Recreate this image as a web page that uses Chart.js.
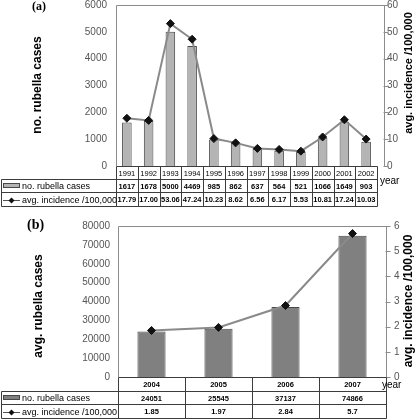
<!DOCTYPE html>
<html>
<head>
<meta charset="utf-8">
<script src="https://cdn.jsdelivr.net/npm/chart.js@4.4.0/dist/chart.umd.min.js"></script>
<style>
  body { margin: 0; background: #fff; }
  canvas { position: absolute; left: 0; }
  #chartA { top: 0; }
  #chartB { top: 210px; }
</style>
</head>
<body>
<canvas id="chartA" width="416" height="210"></canvas>
<canvas id="chartB" width="416" height="209"></canvas>
<script>
// series names used in the data tables
var seriesNames = ['no. rubella cases', 'avg. incidence /100,000'];

// panel (a) 1991-2002
var yearsA = ['1991', '1992', '1993', '1994', '1995', '1996', '1997', '1998', '1999', '2000', '2001', '2002'];
var casesA = [1617, 1678, 5000, 4469, 985, 862, 637, 564, 521, 1066, 1649, 903];
var incidenceA = [17.79, 17.00, 53.06, 47.24, 10.23, 8.62, 6.56, 6.17, 5.53, 10.81, 17.24, 10.03];
var casesMaxA = 6000, casesStepA = 1000;
var incMaxA = 60, incStepA = 10;

// panel (b) 2004-2007
var yearsB = ['2004', '2005', '2006', '2007'];
var casesB = [24051, 25545, 37137, 74866];
var incidenceB = [1.85, 1.97, 2.84, 5.7];
var casesMaxB = 80000, casesStepB = 10000;
var incMaxB = 6, incStepB = 1;

var SANS = '"Liberation Sans", Arial, sans-serif';
var SERIF = '"Liberation Serif", "Times New Roman", serif';

function rotText(c, txt, cx, cy, font) {
  c.save();
  c.translate(cx, cy);
  c.rotate(-Math.PI / 2);
  c.font = font;
  c.textAlign = 'center';
  c.textBaseline = 'middle';
  c.fillText(txt, 0, 0);
  c.restore();
}

function plain(v) { return String(v); }

function buildPanel(id, p) {
  var n = p.years.length;

  var panel = {
    id: 'panel_' + id,
    beforeDatasetsDraw: function (chart) {
      var c = chart.ctx, a = chart.chartArea, y1 = chart.scales.y1;
      var fr = p.frameRight + 0.5;
      c.save();
      c.strokeStyle = '#8c8c8c';
      c.lineWidth = 1;
      c.beginPath();
      c.moveTo(a.left + 0.5, a.bottom);
      c.lineTo(a.left + 0.5, a.top + 0.5);
      c.lineTo(fr, a.top + 0.5);
      c.lineTo(fr, a.bottom);
      y1.ticks.forEach(function (t) {
        var ty = Math.round(y1.getPixelForValue(t.value)) + 0.5;
        c.moveTo(fr - 1, ty);
        c.lineTo(fr + 4, ty);
      });
      c.stroke();
      c.restore();
    },
    afterDraw: function (chart) {
      var c = chart.ctx, a = chart.chartArea, x = chart.scales.x;
      var r = [0, 1, 2, 3].map(function (k) { return Math.round(a.bottom + k * p.rowH) + 0.5; });
      var edge = function (i) { return Math.round(x.getPixelForValue(i - 0.5)) + 0.5; };
      var right = edge(n);
      c.save();
      c.strokeStyle = '#3c3c3c';
      c.lineWidth = 1;
      c.beginPath();
      c.moveTo(edge(0), r[0]); c.lineTo(right, r[0]);
      for (var k = 1; k < 4; k++) { c.moveTo(1.5, r[k]); c.lineTo(right, r[k]); }
      for (var i = 0; i <= n; i++) { c.moveTo(edge(i), r[0]); c.lineTo(edge(i), r[3]); }
      c.moveTo(1.5, r[1]); c.lineTo(1.5, r[3]);
      c.stroke();

      // cell texts
      c.fillStyle = '#000';
      c.textAlign = 'center';
      c.textBaseline = 'middle';
      for (i = 0; i < n; i++) {
        var cx = x.getPixelForValue(i);
        c.font = p.yearFont;
        c.fillText(p.years[i], cx, (r[0] + r[1]) / 2 + 0.5);
        c.font = 'bold 7.5px ' + SANS;
        c.fillText(String(p.cases[i]), cx, (r[1] + r[2]) / 2 + 0.5);
        c.fillText(p.incFmt(p.incidence[i]), cx, (r[2] + r[3]) / 2 + 0.5);
      }

      // legend keys
      var m1 = Math.round((r[1] + r[2]) / 2), m2 = Math.round((r[2] + r[3]) / 2);
      c.fillStyle = p.barColor;
      c.fillRect(3, m1 - 2, 17, 4);
      c.strokeStyle = '#474747';
      c.strokeRect(3.5, m1 - 2.5, 16, 4);
      c.strokeStyle = '#555';
      c.beginPath();
      c.moveTo(3, m2 + 0.5); c.lineTo(20, m2 + 0.5);
      c.stroke();
      c.fillStyle = '#111';
      c.beginPath();
      c.moveTo(11.5, m2 - 2.5); c.lineTo(14.5, m2 + 0.5); c.lineTo(11.5, m2 + 3.5); c.lineTo(8.5, m2 + 0.5);
      c.closePath();
      c.fill();
      c.fillStyle = '#000';
      c.textAlign = 'left';
      c.font = '9px ' + SANS;
      c.fillText(seriesNames[0], 22, m1 + 0.5);
      c.fillText(seriesNames[1], 22, m2 + 0.5);

      // year label, axis titles, panel tag
      c.font = '10px ' + SANS;
      c.fillText('year', p.yearX, p.yearY);
      c.font = 'bold ' + p.tagSize + 'px ' + SERIF;
      c.fillText(p.tag, p.tagX, p.tagY);
      rotText(c, p.leftTitle, p.leftTitleX, p.leftTitleY, 'bold ' + p.leftTitleSize + 'px ' + SANS);
      rotText(c, seriesNames[1], p.rightTitleX, p.rightTitleY, 'bold ' + p.rightTitleSize + 'px ' + SANS);
      c.restore();
    }
  };

  var tickFont = { family: SANS, size: 10 };

  return new Chart(document.getElementById(id), {
    type: 'bar',
    data: {
      labels: p.years,
      datasets: [
        {
          type: 'line',
          label: seriesNames[1],
          data: p.incidence,
          yAxisID: 'y1',
          order: 0,
          borderColor: '#8a8a8a',
          borderWidth: 2,
          tension: 0,
          pointStyle: 'rectRot',
          pointRadius: 4,
          pointBackgroundColor: '#111',
          pointBorderColor: '#111',
          pointBorderWidth: 1
        },
        {
          type: 'bar',
          label: seriesNames[0],
          data: p.cases,
          yAxisID: 'y',
          order: 1,
          backgroundColor: p.barColor,
          borderColor: '#474747',
          borderWidth: 1,
          categoryPercentage: 1,
          barPercentage: p.barPct
        }
      ]
    },
    options: {
      responsive: false,
      animation: false,
      layout: { padding: { top: p.top, bottom: p.bottom, left: 0, right: 0 } },
      plugins: { legend: { display: false }, tooltip: { enabled: false } },
      scales: {
        x: { display: false, offset: true },
        y: {
          position: 'left',
          min: 0,
          max: p.casesMax,
          ticks: { stepSize: p.casesStep, font: tickFont, color: '#555', padding: p.leftPad, callback: plain },
          grid: { display: false, drawTicks: false },
          border: { display: false },
          afterFit: function (s) { s.width = p.leftW; s.paddingTop = 0; s.paddingBottom = 0; }
        },
        y1: {
          position: 'right',
          min: 0,
          max: p.incMax,
          ticks: { stepSize: p.incStep, font: tickFont, color: '#555', padding: p.rightPad, callback: plain },
          grid: { display: false, drawTicks: false },
          border: { display: false },
          afterFit: function (s) { s.width = p.rightW; s.paddingTop = 0; s.paddingBottom = 0; }
        }
      }
    },
    plugins: [panel]
  });
}

buildPanel('chartA', {
  years: yearsA, cases: casesA, incidence: incidenceA,
  casesMax: casesMaxA, casesStep: casesStepA, incMax: incMaxA, incStep: incStepA,
  incFmt: function (v) { return v.toFixed(2); },
  yearFont: '7.5px ' + SANS,
  barColor: '#b4b4b4', barPct: 0.44,
  top: 5, bottom: 44, leftW: 116, rightW: 39, leftPad: 9, rightPad: 10,
  frameRight: 384, rowH: 13.2,
  yearX: 380, yearY: 181,
  tag: '(a)', tagSize: 12, tagX: 32, tagY: 7,
  leftTitle: 'no. rubella cases', leftTitleSize: 12, leftTitleX: 38, leftTitleY: 85,
  rightTitleSize: 11, rightTitleX: 409, rightTitleY: 73
});

buildPanel('chartB', {
  years: yearsB, cases: casesB, incidence: incidenceB,
  casesMax: casesMaxB, casesStep: casesStepB, incMax: incMaxB, incStep: incStepB,
  incFmt: function (v) { return String(v); },
  yearFont: 'bold 7.5px ' + SANS,
  barColor: '#808080', barPct: 0.42,
  top: 16, bottom: 42, leftW: 118, rightW: 30, leftPad: 8, rightPad: 8,
  frameRight: 386, rowH: 13.6,
  yearX: 382, yearY: 175,
  tag: '(b)', tagSize: 14, tagX: 27, tagY: 15,
  leftTitle: 'avg. rubella cases', leftTitleSize: 12, leftTitleX: 39, leftTitleY: 96,
  rightTitleSize: 12, rightTitleX: 409, rightTitleY: 91
});
</script>
</body>
</html>
